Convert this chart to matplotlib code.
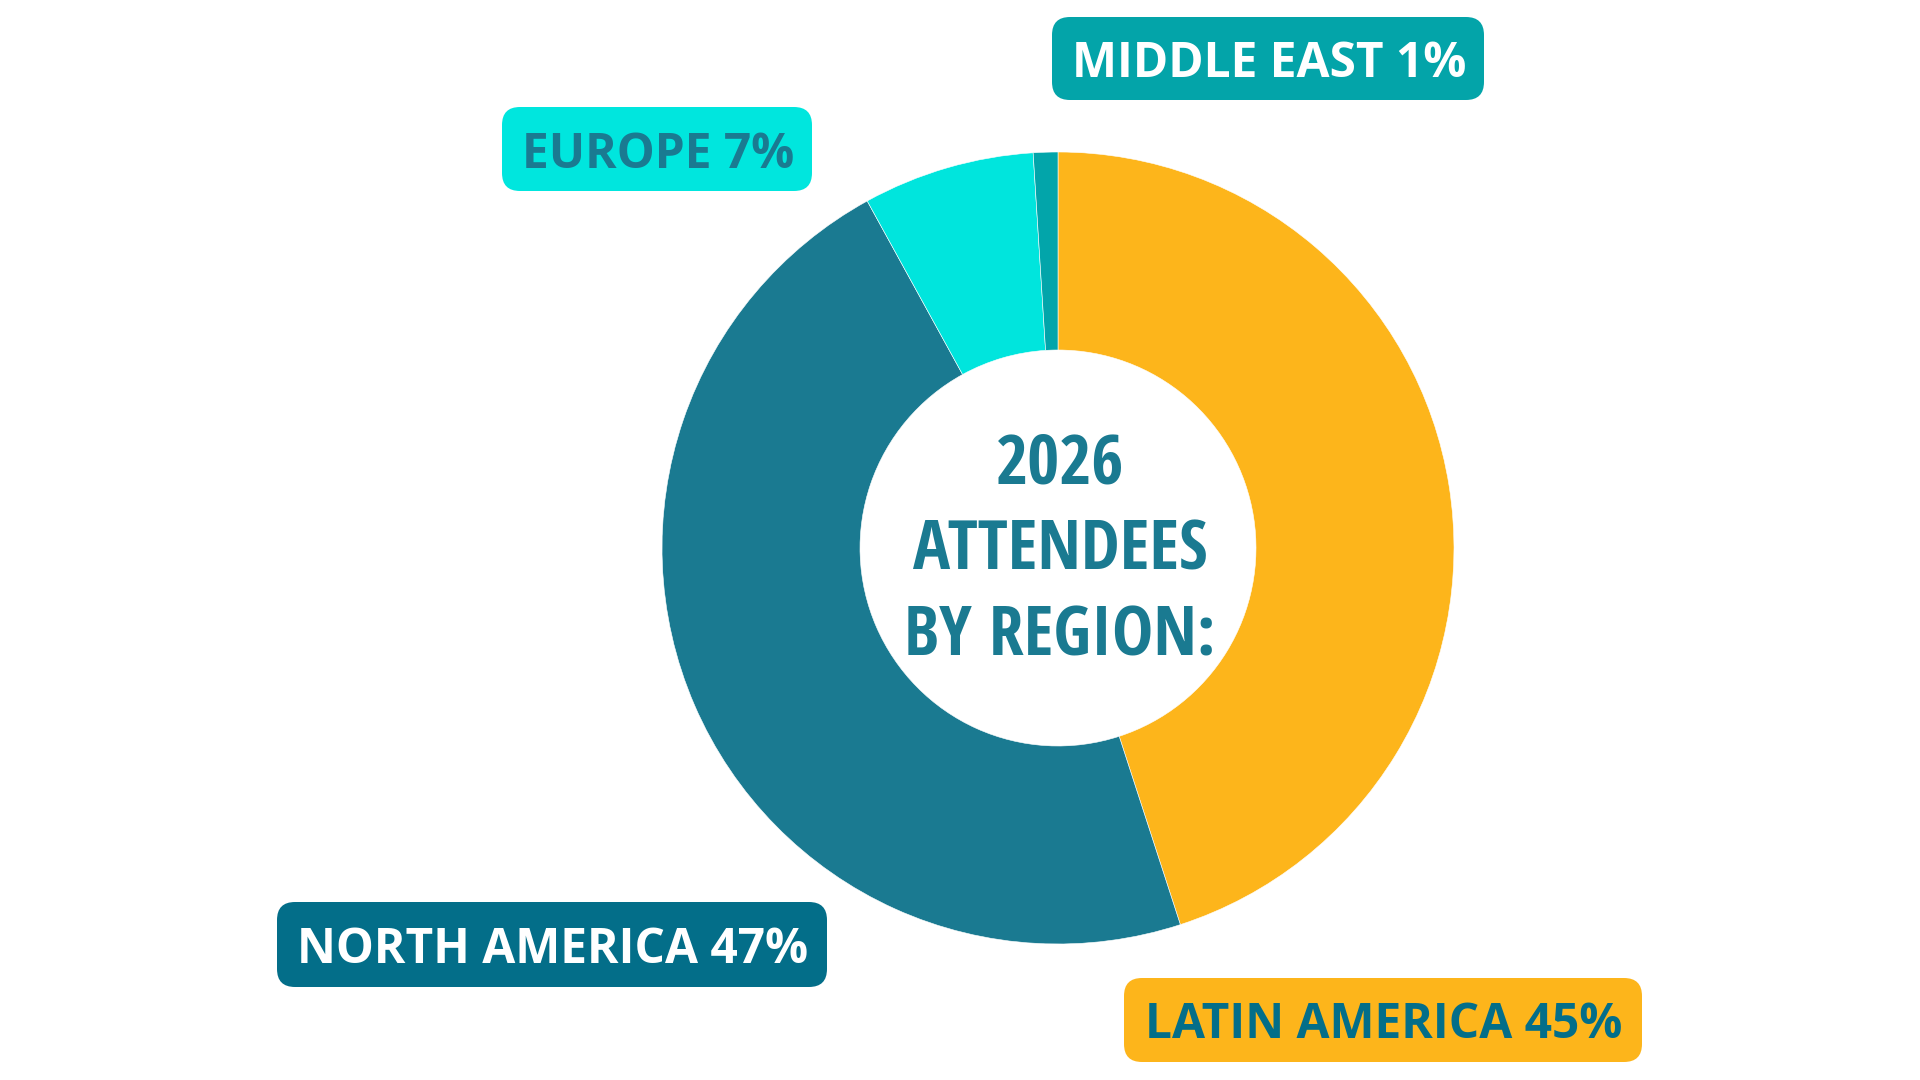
import matplotlib.pyplot as plt
from matplotlib.patches import FancyBboxPatch

# data
regions = ["LATIN AMERICA", "NORTH AMERICA", "EUROPE", "MIDDLE EAST"]
shares = [45, 47, 7, 1]
slice_colors = ["#FDB51B", "#1A7A91", "#00E5DD", "#02A5AA"]
box_colors = ["#FDB51B", "#036E89", "#00E6DE", "#03A4A9"]
text_colors = ["#036E89", "#FFFFFF", "#1A7A91", "#FFFFFF"]
center_lines = ["2026", "ATTENDEES", "BY REGION:"]

# label boxes in pixel space (x0, y0 top, x1, y1 bottom)
boxes = [(1124, 978, 1642, 1062), (277, 902, 827, 987),
         (502, 107, 812, 191), (1052, 17, 1484, 100)]

W, H = 1920, 1080
fig = plt.figure(figsize=(19.2, 10.8), dpi=100)
ax = fig.add_axes([0, 0, 1, 1])

cx, cy, r = 1058, H - 548, 396
ax.pie(shares, colors=slice_colors, startangle=90, counterclock=False,
       center=(cx, cy), radius=r, frame=True,
       wedgeprops=dict(width=r * 0.5, edgecolor="white", linewidth=0.4))
ax.set_xlim(0, W)
ax.set_ylim(0, H)
ax.axis("off")

for name, pct, bc, tc, (x0, y0, x1, y1) in zip(regions, shares, box_colors, text_colors, boxes):
    patch = FancyBboxPatch((x0 + 14, H - y1 + 14), (x1 - x0) - 28, (y1 - y0) - 28,
                           boxstyle="round,pad=14,rounding_size=18",
                           fc=bc, ec="none", mutation_aspect=1)
    ax.add_patch(patch)
    ax.text((x0 + x1) / 2 + 1, H - (y0 + y1) / 2, f"{name} {pct}%", ha="center", va="center_baseline",
            fontsize=34.5, fontweight="bold", family="Open Sans", color=tc)

for i, line in enumerate(center_lines):
    ax.text(1060, H - (457 + i * 86), line, ha="center", va="center_baseline",
            fontsize=50, fontweight="bold", family="Open Sans Condensed", color="#1A7A91")

fig.savefig("out.png", dpi=100, facecolor="white")
